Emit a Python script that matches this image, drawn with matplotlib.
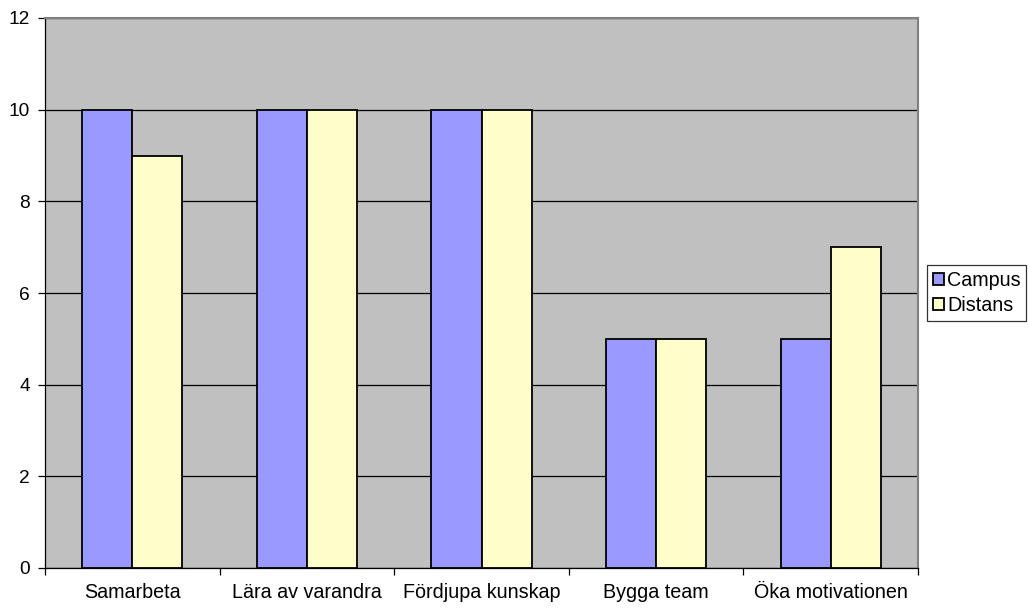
import numpy as np
import matplotlib.pyplot as plt
from matplotlib.ticker import FixedLocator

plt.rcParams['font.family'] = ['Liberation Sans', 'DejaVu Sans']

# Kategorier och värden per grupp
kategorier = ['Samarbeta', 'Lära av varandra', 'Fördjupa kunskap', 'Bygga team', 'Öka motivationen']
campus = [10, 10, 10, 5, 5]
distans = [9, 10, 10, 5, 7]

fs = 14.2

fig = plt.figure(figsize=(10.29, 6.09), dpi=100)
ax = fig.add_axes([45 / 1029, 41 / 609, 873 / 1029, 550 / 609])

x = np.arange(len(kategorier))
w = 0.287
ax.bar(x - w / 2, campus, w, color='#9999FF', edgecolor='black', linewidth=1.3,
       label='Campus', zorder=3)
ax.bar(x + w / 2, distans, w, color='#FFFFCC', edgecolor='black', linewidth=1.3,
       label='Distans', zorder=3)

ax.set_facecolor('#C0C0C0')
ax.set_xlim(-0.5, len(kategorier) - 0.5)
ax.set_ylim(0, 12)
ax.set_yticks(range(0, 13, 2))
ax.yaxis.grid(True, color='black', linewidth=0.9, zorder=1)

# etiketter i mitten, streck mellan kategorierna
ax.set_xticks(x)
ax.set_xticklabels(kategorier)
ax.xaxis.set_minor_locator(FixedLocator(np.arange(-0.5, len(kategorier), 1.0)))
ax.tick_params(axis='x', which='major', length=0, pad=11, labelsize=fs)
ax.tick_params(axis='x', which='minor', length=5, width=0.9, direction='out')
ax.tick_params(axis='y', length=5, width=0.9, pad=6, labelsize=13.8)

for s in ['top', 'right']:
    ax.spines[s].set_color('#808080')
    ax.spines[s].set_linewidth(1.5)
for s in ['left', 'bottom']:
    ax.spines[s].set_color('black')
    ax.spines[s].set_linewidth(0.9)

leg = ax.legend(loc='center left', bbox_to_anchor=(1.0105, 0.5), fontsize=fs,
                frameon=True, fancybox=False, edgecolor='black', handlelength=0.55,
                handleheight=0.6, handletextpad=0.15, borderpad=0.3, labelspacing=0.3,
                borderaxespad=0)
leg.get_frame().set_linewidth(0.9)

fig.savefig('out.png', dpi=100)
